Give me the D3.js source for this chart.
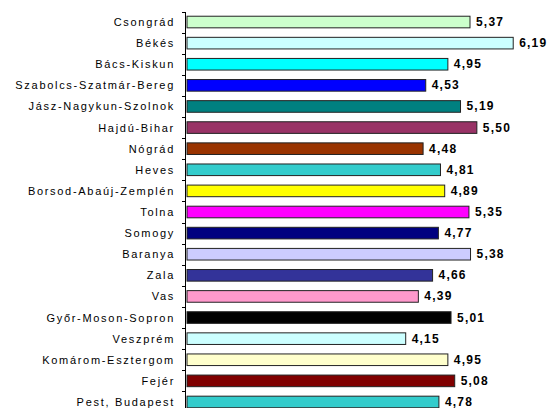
<!DOCTYPE html>
<html><head><meta charset="utf-8">
<script src="https://cdn.jsdelivr.net/npm/d3@7"></script>
<style>body{margin:0;background:#fff}</style>
</head><body>
<script>
const categories = ["Csongrád","Békés","Bács-Kiskun","Szabolcs-Szatmár-Bereg","Jász-Nagykun-Szolnok","Hajdú-Bihar","Nógrád","Heves","Borsod-Abaúj-Zemplén","Tolna","Somogy","Baranya","Zala","Vas","Győr-Moson-Sopron","Veszprém","Komárom-Esztergom","Fejér","Pest, Budapest"];
const values = [5.37,6.19,4.95,4.53,5.19,5.50,4.48,4.81,4.89,5.35,4.77,5.38,4.66,4.39,5.01,4.15,4.95,5.08,4.78];
const colors = ["#ccffcc","#ccffff","#00ffff","#0000ff","#008080","#993366","#993300","#33cccc","#ffff00","#ff00ff","#000080","#ccccff","#333399","#ff99cc","#000000","#ccffff","#ffffcc","#800000","#33cccc"];

const W = 550, H = 408;
const svg = d3.select("body").append("svg").attr("width", W).attr("height", H);

const x = d3.scaleLinear().domain([0, 7]).range([187, 187 + 7 * 52.7]);
const y = d3.scaleBand().domain(categories).range([12, 412]).paddingInner(0.45).paddingOuter(0.2);

const fmt = v => d3.format(".2f")(v).replace(".", ",");

svg.selectAll("rect.bar").data(categories).enter().append("rect")
  .attr("class", "bar")
  .attr("x", x(0))
  .attr("y", d => y(d))
  .attr("width", (d, i) => x(values[i]) - x(0))
  .attr("height", y.bandwidth())
  .attr("fill", (d, i) => colors[i])
  .attr("stroke", "#222")
  .attr("stroke-width", 1);

// axis line
const axisX = 185.5;
svg.append("line").attr("x1", axisX).attr("x2", axisX).attr("y1", 12).attr("y2", H).attr("stroke", "#000");
const tickYs = d3.range(categories.length).map(i => 12 + i * (400 / 19));
svg.selectAll("line.tick").data(tickYs).enter().append("line")
  .attr("x1", axisX - 3.5).attr("x2", axisX).attr("y1", d => Math.round(d) + 0.5).attr("y2", d => Math.round(d) + 0.5)
  .attr("stroke", "#000");

svg.selectAll("text.cat").data(categories).enter().append("text")
  .attr("x", 175).attr("y", d => y(d) + y.bandwidth() / 2)
  .attr("text-anchor", "end").attr("dominant-baseline", "central")
  .style("font-family", "Liberation Sans, Arial, sans-serif").style("font-size", "11px")
  .style("letter-spacing", "1.7px")
  .text(d => d);

svg.selectAll("text.val").data(categories).enter().append("text")
  .attr("x", (d, i) => x(values[i]) + 6).attr("y", d => y(d) + y.bandwidth() / 2)
  .attr("dominant-baseline", "central")
  .style("font-family", "Liberation Sans, Arial, sans-serif").style("font-size", "12px").style("font-weight", "bold")
  .style("letter-spacing", "1.2px")
  .text((d, i) => fmt(values[i]));
</script>
</body></html>
